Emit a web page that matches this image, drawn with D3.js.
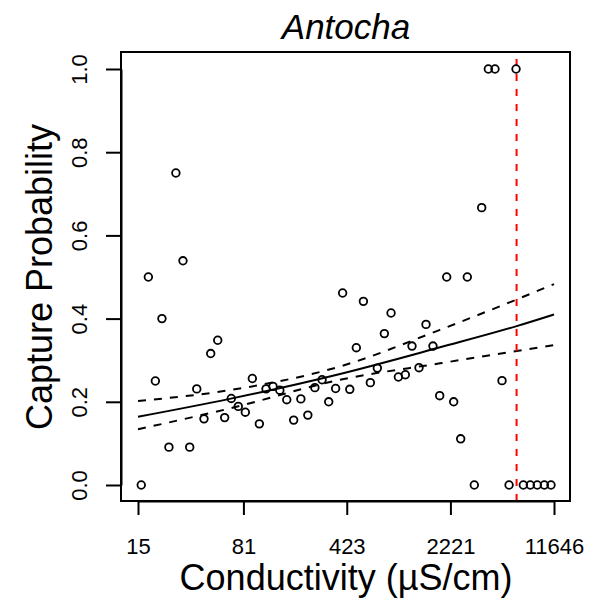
<!DOCTYPE html>
<html><head><meta charset="utf-8">
<script src="https://cdn.jsdelivr.net/npm/d3@7"></script>
<style>body{margin:0;background:#fff}svg{display:block}</style>
</head><body><svg id="c" width="610" height="601"></svg>
<script>
const conductivity = [15.8, 17.7, 19.8, 22.0, 24.6, 27.5, 30.8, 34.3, 38.4, 43.1, 48.0, 53.7, 60.0, 66.7, 74.6, 83.5, 93.4, 104.5, 116.3, 130, 145, 162, 181, 203, 227, 254, 285, 317, 354, 396, 444, 493, 552, 617, 690, 772, 859, 966, 1080, 1201, 1344, 1503, 1680, 1871, 2093, 2340, 2617, 2910, 3255, 3663, 4074, 4530, 5070, 5675, 6345, 7130, 7970, 8910, 9975, 11100];
const captureProb = [0, 0.50, 0.25, 0.40, 0.091, 0.75, 0.539, 0.091, 0.231, 0.159, 0.316, 0.348, 0.162, 0.208, 0.189, 0.175, 0.256, 0.147, 0.231, 0.237, 0.228, 0.205, 0.156, 0.207, 0.168, 0.234, 0.253, 0.200, 0.232, 0.4615, 0.230, 0.330, 0.4415, 0.246, 0.281, 0.364, 0.4135, 0.2596, 0.265, 0.334, 0.282, 0.386, 0.334, 0.2147, 0.50, 0.200, 0.111, 0.50, 0, 0.6667, 1, 1, 0.2508, 0, 1, 0, 0, 0, 0, 0];
const fitConductivity = [15, 65, 380, 1880, 6410, 11646];
const fitProb = [0.164, 0.207, 0.267, 0.331, 0.382, 0.410];
const upperProb = [0.202, 0.228, 0.285, 0.373, 0.446, 0.483];
const lowerProb = [0.134, 0.184, 0.253, 0.2925, 0.322, 0.3365];
const thresholdConductivity = 6400;
const xTicks = [15, 81, 423, 2221, 11646];
const yTicks = [0, 0.2, 0.4, 0.6, 0.8, 1.0];
const yTickLabels = ["0.0", "0.2", "0.4", "0.6", "0.8", "1.0"];

const svg = d3.select("#c");
const font = "'Liberation Sans', Arial, Helvetica, sans-serif";
const box = {l: 121, r: 570, t: 52, b: 501};

const x = d3.scaleLog().domain([15, 11646]).range([138, 554]);
const y = d3.scaleLinear().domain([0, 1]).range([485, 69]);

// lines
const mk = arr => fitConductivity.map((c, i) => [x(c), y(arr[i])]);
const line = d3.line().curve(d3.curveMonotoneX);
svg.append("path").attr("d", line(mk(fitProb))).attr("fill", "none").attr("stroke", "#000").attr("stroke-width", 2);
svg.append("path").attr("d", line(mk(upperProb))).attr("fill", "none").attr("stroke", "#000").attr("stroke-width", 2).attr("stroke-dasharray", "8,8");
svg.append("path").attr("d", line(mk(lowerProb))).attr("fill", "none").attr("stroke", "#000").attr("stroke-width", 2).attr("stroke-dasharray", "8,8");

// threshold
svg.append("line").attr("x1", x(thresholdConductivity)).attr("x2", x(thresholdConductivity))
  .attr("y1", box.b).attr("y2", box.t).attr("stroke", "#ff0000").attr("stroke-width", 2).attr("stroke-dasharray", "7,8");

// points
svg.append("g").selectAll("circle").data(conductivity).join("circle")
  .attr("cx", d => x(d)).attr("cy", (d, i) => y(captureProb[i])).attr("r", 3.8)
  .attr("fill", "none").attr("stroke", "#000").attr("stroke-width", 1.8);

// box
svg.append("rect").attr("x", box.l).attr("y", box.t).attr("width", box.r - box.l).attr("height", box.b - box.t)
  .attr("fill", "none").attr("stroke", "#000").attr("stroke-width", 2);

// x axis
const gx = svg.append("g").attr("transform", `translate(0,${box.b})`)
  .call(d3.axisBottom(x).tickValues(xTicks).tickFormat(d => String(d)).tickSize(14).tickSizeOuter(0));
gx.selectAll("line").attr("stroke", "#000").attr("stroke-width", 2);
gx.select(".domain").attr("stroke", "#000").attr("stroke-width", 2);
gx.selectAll("text").attr("y", 53).attr("dy", 0).attr("fill", "#000")
  .style("font-family", font).style("font-size", "22px");

// y axis
const gy = svg.append("g").attr("transform", `translate(${box.l},0)`)
  .call(d3.axisLeft(y).tickValues(yTicks).tickFormat((d, i) => yTickLabels[i]).tickSize(15).tickSizeOuter(0));
gy.selectAll("line").attr("stroke", "#000").attr("stroke-width", 2);
gy.select(".domain").attr("stroke", "#000").attr("stroke-width", 2);
gy.selectAll("text").attr("transform", "rotate(-90)").attr("x", 0).attr("y", -34).attr("dy", 0)
  .attr("text-anchor", "middle").attr("fill", "#000")
  .style("font-family", font).style("font-size", "22px");

// titles
svg.append("text").attr("x", 346).attr("y", 39).attr("text-anchor", "middle")
  .style("font-family", font).style("font-size", "35px").style("font-style", "italic").text("Antocha");
svg.append("text").attr("x", 346).attr("y", 590).attr("text-anchor", "middle")
  .style("font-family", font).style("font-size", "36px").text("Conductivity (µS/cm)");
svg.append("text").attr("transform", "translate(52,277) rotate(-90)").attr("text-anchor", "middle")
  .style("font-family", font).style("font-size", "36px").text("Capture Probability");
</script>
</body></html>
